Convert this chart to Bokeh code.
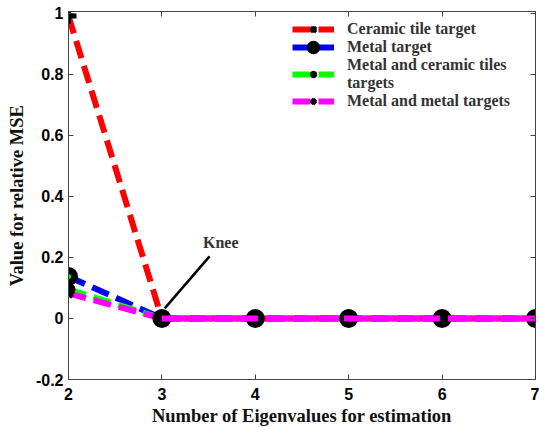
from bokeh.plotting import figure
from bokeh.models import Legend, LegendItem, FixedTicker, LinearAxis
from bokeh.core.properties import value
from bokeh.embed import file_html
from bokeh.resources import INLINE

eigen = [2, 3, 4, 5, 6, 7]
ceramic = [0.99, 0, 0, 0, 0, 0]
metal = [0.137, 0, 0, 0, 0, 0]
metal_ceramic = [0.095, 0, 0, 0, 0, 0]
metal_metal = [0.082, 0, 0, 0, 0, 0]
labels = ["Ceramic tile target", "Metal target", "Metal and ceramic tiles\ntargets", "Metal and metal targets"]
x_ticks = [2, 3, 4, 5, 6, 7]
y_ticks = [-0.2, 0, 0.2, 0.4, 0.6, 0.8, 1]
y_tick_labels = ["-0.2", "0", "0.2", "0.4", "0.6", "0.8", "1"]
knee_line_x = [3.03, 3.51]
knee_line_y = [0.033, 0.203]
knee_text = ["Knee"]
knee_x = [3.63]
knee_y = [0.25]

p = figure(frame_width=467, frame_height=368, output_backend="svg", toolbar_location=None,
           x_range=(2, 7), y_range=(-0.2, 1.005),
           min_border_left=68, min_border_right=4, min_border_top=11, min_border_bottom=39)
p.grid.visible = False
p.outline_line_color = "#444444"

serif = "Liberation Serif"
sans = "Liberation Sans"

for ax in [p.xaxis[0], p.yaxis[0]]:
    ax.major_tick_in = 5
    ax.major_tick_out = 0
    ax.minor_tick_line_color = None
    ax.axis_line_color = "#444444"
    ax.major_tick_line_color = "#444444"
    ax.major_label_text_font = sans
    ax.major_label_text_font_style = "bold"
    ax.major_label_text_font_size = "16px"
    ax.major_label_text_color = "black"
    ax.axis_label_text_font = serif
    ax.axis_label_text_font_style = "bold"
    ax.axis_label_text_font_size = "18.5px"
    ax.axis_label_text_color = "#111111"

p.xaxis[0].ticker = FixedTicker(ticks=x_ticks)
p.yaxis[0].ticker = FixedTicker(ticks=y_ticks)
p.yaxis[0].major_label_overrides = dict(zip(y_ticks, y_tick_labels))
p.xaxis[0].axis_label = "Number of Eigenvalues for estimation"
p.yaxis[0].axis_label = "Value for relative MSE"
p.xaxis[0].axis_label_standoff = 3
p.yaxis[0].axis_label_standoff = 6
p.xaxis[0].major_label_standoff = 8
p.yaxis[0].major_label_standoff = 5

for side, tick in [("above", x_ticks), ("right", y_ticks)]:
    ax = LinearAxis(ticker=FixedTicker(ticks=tick), major_tick_in=5, major_tick_out=0,
                    minor_tick_line_color=None, major_label_text_font_size="0px",
                    axis_line_color="#444444", major_tick_line_color="#444444",
                    major_label_standoff=0)
    p.add_layout(ax, side)

dash = "18 8"
lw = 6
r1 = p.line(eigen, ceramic, line_color="#ff0000", line_width=lw, line_dash=dash)
r2 = p.line(eigen, metal, line_color="#0000ff", line_width=lw, line_dash=dash)
r3 = p.line(eigen, metal_ceramic, line_color="#00ff00", line_width=lw, line_dash=dash)
r4 = p.line(eigen, metal_metal, line_color="#ff00ff", line_width=lw, line_dash=dash)

m1 = p.scatter(eigen, ceramic, marker="cross", size=16, line_color="black", line_width=5)
m2 = p.scatter(eigen, metal, marker="circle", size=12, fill_color="#00ff00", line_color="black", line_width=7)
m3 = p.scatter(eigen, metal_ceramic, marker="circle", size=13, fill_color="black", line_color="black")
m4 = p.scatter(eigen, metal_metal, marker="x", size=11, line_color="black", line_width=4)

r4b = p.line(eigen[1:], metal_metal[1:], line_color="#ff00ff", line_width=lw, line_dash=dash)

p.line(knee_line_x, knee_line_y, line_color="black", line_width=2.5)
p.text(knee_x, knee_y, text=knee_text, text_font=value(serif), text_font_style="bold",
       text_font_size="16px", text_color="#333333", text_align="center", text_baseline="middle")

legend = Legend(items=[
    LegendItem(label=labels[0], renderers=[r1, m1]),
    LegendItem(label=labels[1], renderers=[r2, m2]),
    LegendItem(label=labels[2], renderers=[r3, m3]),
    LegendItem(label=labels[3], renderers=[r4, m4]),
], location=(224, 269))
legend.border_line_alpha = 0
legend.background_fill_alpha = 0
legend.padding = 0
legend.margin = 0
legend.spacing = 0
legend.glyph_width = 42
legend.glyph_height = 16
legend.label_height = 16
legend.label_standoff = 13
legend.label_text_font = serif
legend.label_text_font_style = "bold"
legend.label_text_font_size = "16px"
legend.label_text_color = "#333333"
legend.label_text_line_height = 0.95
p.add_layout(legend, "center")

open("out.html", "w").write(file_html(p, INLINE))
